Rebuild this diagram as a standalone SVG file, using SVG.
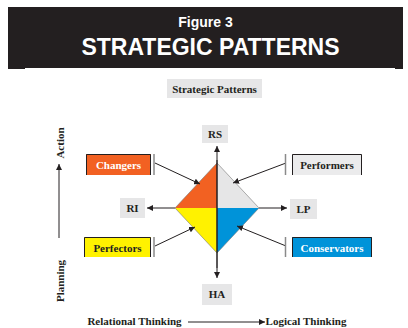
<svg xmlns="http://www.w3.org/2000/svg" width="408" height="328" viewBox="0 0 408 328">
<style>
.hd{font-family:"Liberation Sans",Arial,sans-serif;font-weight:bold;fill:#fff;text-anchor:middle}
.t{font-family:"Liberation Serif","Times New Roman",serif;font-weight:bold;font-size:11px;fill:#231f20;text-anchor:middle}
.w{fill:#fff}
.lbl{fill:#e6e6e7}
.ln{stroke:#231f20;stroke-width:1;fill:none}
.tick{stroke:#8a8a8a;stroke-width:1.5}
.bx{stroke:#231f20;stroke-width:1;fill:none}
</style>
<defs>
<marker id="ah" viewBox="0 0 10 10" refX="10" refY="5" markerWidth="6" markerHeight="6" markerUnits="userSpaceOnUse" orient="auto">
<path d="M0,0 L10,5 L0,10 Z" fill="#231f20"/>
</marker>
</defs>
<rect width="408" height="328" fill="#fff"/>
<g id="header">
<rect x="8" y="7" width="395" height="62" fill="#231f20"/>
<rect x="25" y="68" width="370" height="1" fill="#fff"/>
<text class="hd" x="205.5" y="27" font-size="14">Figure 3</text>
<text class="hd" x="210.5" y="55" font-size="23">STRATEGIC PATTERNS</text>
</g>
<g id="title">
<rect class="lbl" x="167" y="79" width="95" height="19"/>
<text class="t" x="214.5" y="93">Strategic Patterns</text>
</g>
<g id="diamond">
<polygon points="217,163 175,208 217,208" fill="#f26122"/>
<polygon points="217,163 259,208 217,208" fill="#e6e6e7"/>
<polygon points="175,208 217,253 217,208" fill="#fff200"/>
<polygon points="259,208 217,253 217,208" fill="#0093d9"/>
<polygon points="217,163 259,208 217,253 175,208" fill="none" stroke="#777" stroke-width="0.6"/>
</g>
<g id="connectors">
<line class="ln" x1="217" y1="268" x2="217" y2="146" marker-end="url(#ah)"/>
<line class="ln" x1="217" y1="160" x2="217" y2="278" marker-end="url(#ah)"/>
<line class="ln" x1="175" y1="208" x2="147" y2="208" marker-end="url(#ah)"/>
<line class="ln" x1="259" y1="208" x2="287" y2="208" marker-end="url(#ah)"/>
<line class="ln" x1="155" y1="163" x2="200" y2="184" marker-end="url(#ah)"/>
<line class="ln" x1="286" y1="163" x2="233" y2="183" marker-end="url(#ah)"/>
<line class="ln" x1="155" y1="246" x2="195" y2="227" marker-end="url(#ah)"/>
<line class="ln" x1="286" y1="246" x2="237" y2="226" marker-end="url(#ah)"/>
<line class="ln" x1="59" y1="238" x2="59" y2="164" marker-end="url(#ah)"/>
<line class="ln" x1="188" y1="322" x2="265" y2="322" marker-end="url(#ah)"/>
<line class="tick" x1="154" y1="154" x2="154" y2="175"/>
<line class="tick" x1="154" y1="237" x2="154" y2="257"/>
<line class="tick" x1="285.5" y1="154" x2="285.5" y2="175"/>
<line class="tick" x1="285.5" y1="237" x2="285.5" y2="257"/>
</g>
<g id="RS">
<rect class="lbl" x="202" y="125" width="26" height="18"/>
<text class="t" x="215" y="138">RS</text>
</g>
<g id="HA">
<rect class="lbl" x="202" y="284" width="30" height="21"/>
<text class="t" x="217" y="298">HA</text>
</g>
<g id="RI">
<rect class="lbl" x="120" y="198" width="25" height="20"/>
<text class="t" x="132.5" y="212">RI</text>
</g>
<g id="LP">
<rect class="lbl" x="290" y="199" width="27" height="20"/>
<text class="t" x="303.5" y="213">LP</text>
</g>
<g id="changers">
<rect x="86" y="154" width="65" height="21" fill="#f26122"/>
<path class="bx" d="M86.5,175 V154.5 H150.5 V175"/>
<text class="t w" x="118.5" y="169">Changers</text>
</g>
<g id="perfectors">
<rect x="84" y="237" width="67" height="20" fill="#fff200"/>
<path class="bx" d="M84.5,257 V237.5 H150.5 V257"/>
<text class="t" x="117.5" y="252">Perfectors</text>
</g>
<g id="performers">
<rect x="292" y="154" width="70" height="21" fill="#ebebec"/>
<path class="bx" d="M292.5,175 V154.5 H361.5 V175"/>
<text class="t" x="327" y="169">Performers</text>
</g>
<g id="conservators">
<rect x="292" y="237" width="80" height="20" fill="#0093d9"/>
<path class="bx" d="M292.5,257 V237.5 H371.5 V257"/>
<text class="t w" x="332" y="252">Conservators</text>
</g>
<g id="axes-labels">
<text class="t" transform="translate(64,143) rotate(-90)">Action</text>
<text class="t" transform="translate(64,281) rotate(-90)">Planning</text>
<text class="t" x="134.5" y="325">Relational Thinking</text>
<text class="t" x="306" y="325">Logical Thinking</text>
</g>
</svg>
